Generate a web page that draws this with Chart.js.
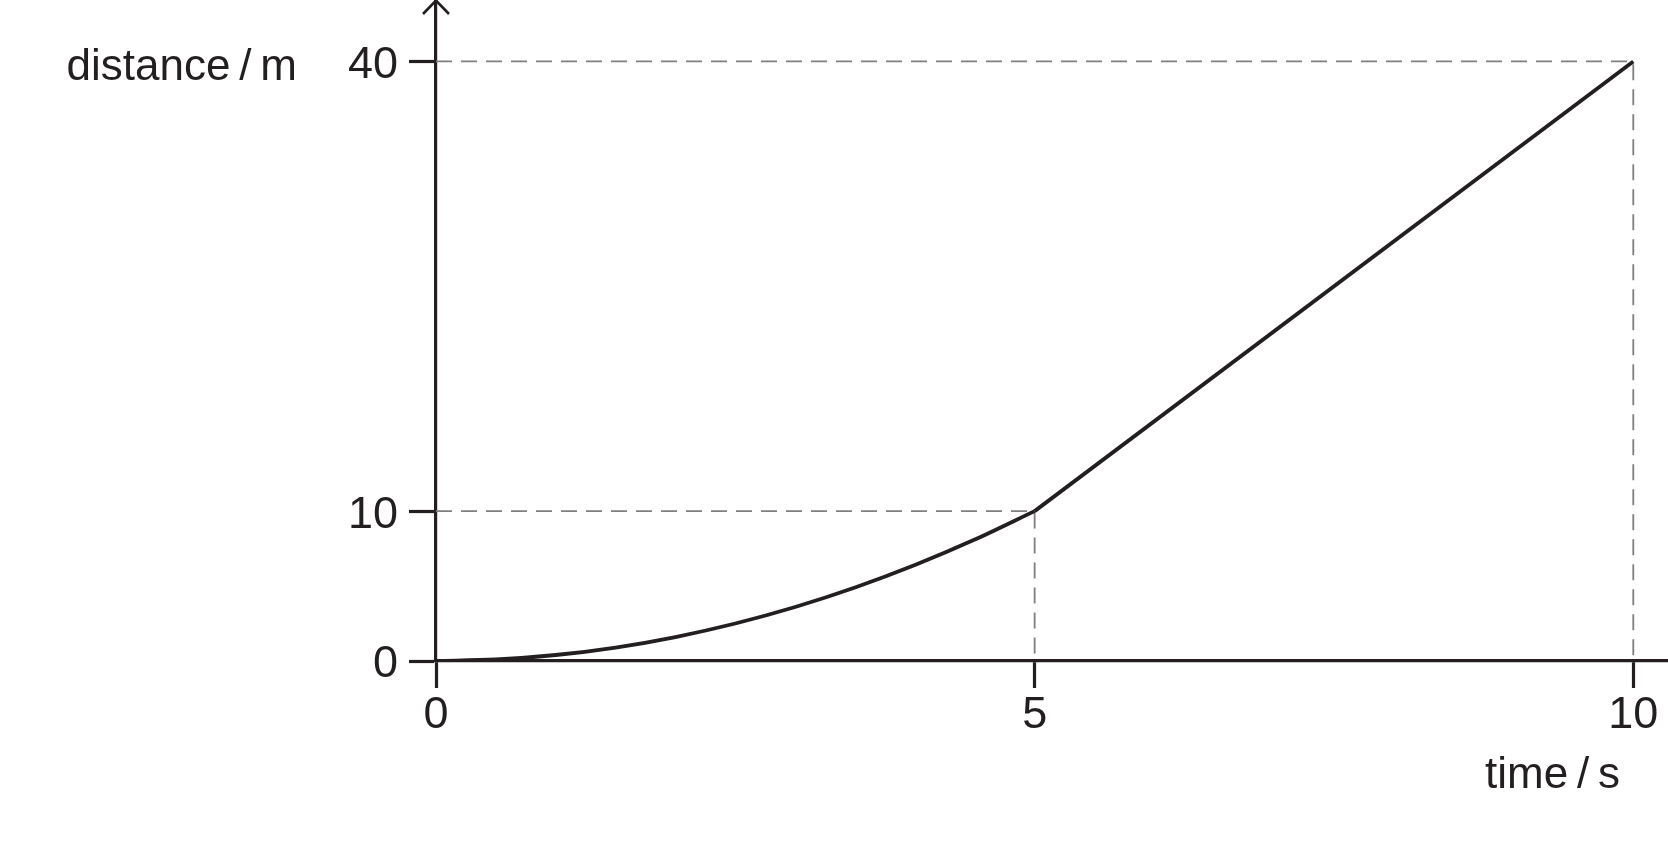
<!DOCTYPE html>
<html>
<head>
<meta charset="utf-8">
<script src="https://cdn.jsdelivr.net/npm/chart.js@4/dist/chart.umd.min.js"></script>
<style>
  html, body { margin: 0; padding: 0; background: #fff; }
  #wrap { width: 1668px; height: 855px; position: relative; }
</style>
</head>
<body>
<div id="wrap"><canvas id="distChart"></canvas></div>
<script>
// values
const curveTimes = [0, 0.5, 1, 1.5, 2, 2.5, 3, 3.5, 4, 4.5, 5];
const curveDistances = [0, 0.1, 0.4, 0.9, 1.6, 2.5, 3.6, 4.9, 6.4, 8.1, 10];
const lineTimes = [5, 10];
const lineDistances = [10, 40];

const guideTopTimes = [0, 10, 10];
const guideTopDistances = [40, 40, 0];
const guideMidTimes = [0, 5, 5];
const guideMidDistances = [10, 10, 0];

const xTickValues = [0, 5, 10];
const yTickValues = [0, 10, 40];

const xTitle = "time\u2009/\u2009s";
const yTitle = "distance\u2009/\u2009m";

const INK = '#231f20';
const GUIDE = '#7f7f7f';
const FONT = '"Liberation Sans", Arial, Helvetica, sans-serif';

function toPoints(xs, ys) {
    return xs.map((x, i) => ({ x: x, y: ys[i] }));
}

// arrow on the y axis and the two axis titles
const axisDecor = {
    id: 'axisDecor',
    afterDraw(chart) {
        const ctx = chart.ctx;
        const x0 = chart.scales.x.getPixelForValue(0);
        const top = chart.chartArea.top;
        ctx.save();
        ctx.strokeStyle = INK;
        ctx.lineWidth = 2.6;
        ctx.beginPath();
        ctx.moveTo(x0 - 13, top + 14);
        ctx.lineTo(x0, top + 0.5);
        ctx.lineTo(x0 + 13, top + 14);
        ctx.stroke();

        ctx.fillStyle = INK;
        ctx.font = '44px ' + FONT;
        ctx.textAlign = 'right';
        ctx.textBaseline = 'alphabetic';
        ctx.fillText(yTitle, 297, 80);
        ctx.fillText(xTitle, 1620, 788);
        ctx.restore();
    }
};

function fixTicks(values) {
    return function (scale) {
        scale.ticks = values.map(v => ({ value: v }));
    };
}

const ctx = document.getElementById('distChart').getContext('2d');
new Chart(ctx, {
    type: 'line',
    data: {
        datasets: [
            {
                data: toPoints(curveTimes, curveDistances),
                borderColor: INK,
                borderWidth: 3.8,
                pointRadius: 0,
                cubicInterpolationMode: 'monotone',
                order: 0
            },
            {
                data: toPoints(lineTimes, lineDistances),
                borderColor: INK,
                borderWidth: 3.8,
                pointRadius: 0,
                order: 0
            },
            {
                data: toPoints(guideTopTimes, guideTopDistances),
                borderColor: GUIDE,
                borderWidth: 1.8,
                borderDash: [16, 9],
                pointRadius: 0,
                order: 1
            },
            {
                data: toPoints(guideMidTimes, guideMidDistances),
                borderColor: GUIDE,
                borderWidth: 1.8,
                borderDash: [16, 9],
                pointRadius: 0,
                order: 1
            }
        ]
    },
    options: {
        responsive: true,
        maintainAspectRatio: false,
        animation: false,
        layout: { padding: 0 },
        plugins: { legend: { display: false }, tooltip: { enabled: false } },
        scales: {
            x: {
                type: 'linear',
                min: 0,
                max: 10.29,
                afterBuildTicks: fixTicks(xTickValues),
                afterFit(scale) { scale.height = 194; scale.paddingLeft = 0; scale.paddingRight = 0; },
                grid: { drawOnChartArea: false, drawTicks: true, tickLength: 27, tickWidth: 3.2, tickColor: INK },
                border: { display: true, color: INK, width: 3.2 },
                ticks: { color: INK, padding: 1, maxRotation: 0, font: { family: FONT, size: 45 } }
            },
            y: {
                type: 'linear',
                min: 0,
                max: 44.1,
                afterBuildTicks: fixTicks(yTickValues),
                afterFit(scale) { scale.width = 436; scale.paddingTop = 0; scale.paddingBottom = 0; },
                grid: { drawOnChartArea: false, drawTicks: true, tickLength: 27, tickWidth: 3.2, tickColor: INK },
                border: { display: true, color: INK, width: 3.2 },
                ticks: { color: INK, padding: 11, labelOffset: 4, font: { family: FONT, size: 45 } }
            }
        }
    },
    plugins: [axisDecor]
});
</script>
</body>
</html>
